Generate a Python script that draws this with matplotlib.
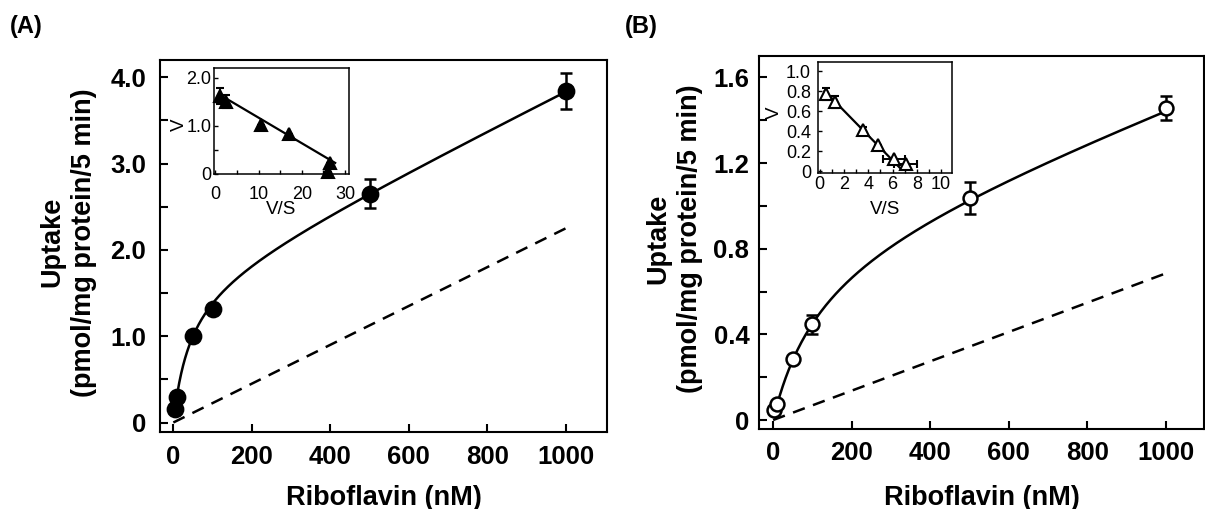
#riboflavin uptake kinetics, two panels with Eadie-Hofstee insets

import numpy as np
import matplotlib
matplotlib.use('Agg')
import matplotlib.pyplot as plt
from matplotlib.ticker import FixedLocator

plt.rcParams['font.family'] = ['Liberation Sans', 'DejaVu Sans']

# panel A data (filled circles)
conc_a = [5, 10, 50, 100, 500, 1000]
uptake_a = [0.16, 0.30, 1.00, 1.32, 2.65, 3.84]
err_a = [0, 0, 0, 0, 0.17, 0.21]
# saturable + diffusion fit for panel A
vmax_a, km_a, kd_a = 1.65, 43.0, 0.00225

# inset A (filled triangles), V vs V/S
vs_a = [1.0, 2.5, 10.5, 17.1, 26.5, 26.1]
v_a = [1.62, 1.50, 1.02, 0.83, 0.23, 0.05]
v_err_a = [0.17, 0.13, 0, 0, 0, 0]
inset_line_a = ([1.0, 27.7], [1.645, 0.23])

# panel B data (open circles)
conc_b = [2, 10, 50, 100, 500, 1000]
uptake_b = [0.047, 0.073, 0.285, 0.447, 1.036, 1.457]
err_b = [0, 0, 0, 0.045, 0.075, 0.055]
vmax_b, km_b, kd_b = 0.85, 123.0, 0.000685

# inset B (open triangles)
vs_b = [0.55, 1.3, 3.6, 4.8, 6.1, 7.1]
v_b = [0.77, 0.69, 0.41, 0.26, 0.12, 0.07]
v_err_b = [0.06, 0.06, 0.03, 0, 0, 0]
vs_err_b = [0, 0, 0.15, 0, 0.9, 0.95]
inset_line_b = ([0.41, 6.7], [0.80, 0.02])

W, H = 1205, 509
fig = plt.figure(figsize=(W / 100, H / 100), dpi=100)

def box(l, t, r, b):
    return [l / W, (H - b) / H, (r - l) / W, (b - t) / H]

def style_main(ax, pad_y):
    for s in ax.spines.values():
        s.set_linewidth(1.5)
    ax.tick_params(axis='both', which='both', direction='in', top=False, right=False,
                   length=5.5, width=1.5, labelsize=18.5)
    ax.tick_params(axis='y', which='both', pad=pad_y)
    ax.tick_params(axis='x', pad=9)
    for lab in ax.get_xticklabels() + ax.get_yticklabels():
        lab.set_fontweight('bold')

def main_panel(ax, conc, uptake, err, vmax, km, kd, filled, xlim, ylim, yticks, yticklabels, yminor, pad_y):
    xs = np.linspace(conc[0], 1000, 400)
    ax.plot(xs, vmax * xs / (km + xs) + kd * xs, color='black', lw=1.8, zorder=2)
    ax.plot([0, 1000], [0, kd * 1000], color='black', lw=1.8, dashes=(5, 3.5), zorder=2)
    ax.errorbar(conc, uptake, yerr=err, fmt='o', ms=11 if filled else 10,
                mfc='black' if filled else 'white', mec='black', mew=1.8,
                ecolor='black', elinewidth=1.8, capsize=4, capthick=1.8, zorder=3, clip_on=False)
    ax.set_xlim(*xlim)
    ax.set_ylim(*ylim)
    ax.set_xticks([0, 200, 400, 600, 800, 1000])
    ax.set_xticklabels(['0', '200', '400', '600', '800', '1000'])
    ax.set_yticks(yticks)
    ax.set_yticklabels(yticklabels)
    ax.yaxis.set_minor_locator(FixedLocator(yminor))
    style_main(ax, pad_y)
    ax.set_xlabel('Riboflavin (nM)', fontsize=19.5, fontweight='bold')
    ax.set_ylabel('Uptake\n(pmol/mg protein/5 min)', fontsize=19.5, fontweight='bold',
                  linespacing=1.3)

def inset_panel(ax, vs, v, v_err, vs_err, line, filled, xlim, ylim, xticks, xminor,
                yticks, yticklabels, yminor, pad_x, pad_y):
    ax.plot(line[0], line[1], color='black', lw=1.6, zorder=2)
    ax.errorbar(vs, v, yerr=v_err, xerr=vs_err, fmt='^', ms=9,
                mfc='black' if filled else 'white', mec='black', mew=1.5,
                ecolor='black', elinewidth=1.4, capsize=3, capthick=1.4, zorder=3, clip_on=False)
    ax.set_xlim(*xlim)
    ax.set_ylim(*ylim)
    ax.set_xticks(xticks)
    ax.set_xticklabels([str(t) for t in xticks])
    ax.xaxis.set_minor_locator(FixedLocator(xminor))
    ax.set_yticks(yticks)
    ax.set_yticklabels(yticklabels)
    ax.yaxis.set_minor_locator(FixedLocator(yminor))
    for s in ax.spines.values():
        s.set_linewidth(1.1)
    ax.tick_params(axis='both', which='both', direction='in', top=False, right=False,
                   length=3, width=1.0, labelsize=13)
    ax.tick_params(axis='x', pad=pad_x)
    ax.tick_params(axis='y', pad=pad_y)
    ax.set_xlabel('V/S', fontsize=13.5)
    ax.set_ylabel('V', fontsize=13.5)

# panel A
ax_a = fig.add_axes(box(160, 60, 607, 432))
main_panel(ax_a, conc_a, uptake_a, err_a, vmax_a, km_a, kd_a, True,
           (-34, 1105), (-0.11, 4.2), [0, 1, 2, 3, 4], ['0', '1.0', '2.0', '3.0', '4.0'],
           [0.5, 1.5, 2.5, 3.5], 10)
ax_a.yaxis.set_label_coords(-0.141, 0.51)
ax_a.xaxis.set_label_coords(0.5, -0.142)

ins_a = fig.add_axes(box(214, 68, 349, 174))
inset_panel(ins_a, vs_a, v_a, v_err_a, [0] * len(vs_a), inset_line_a, True,
            (-0.33, 30.9), (0, 2.2), [0, 10, 20, 30], [5, 15, 25],
            [0, 1, 2], ['0', '1.0', '2.0'], [0.5, 1.5], 8.5, 2)
ins_a.yaxis.set_label_coords(-0.195, 0.46)
ins_a.xaxis.set_label_coords(0.5, -0.255)

# panel B
ax_b = fig.add_axes(box(759, 56, 1204, 429))
main_panel(ax_b, conc_b, uptake_b, err_b, vmax_b, km_b, kd_b, False,
           (-36, 1097), (-0.042, 1.70), [0, 0.4, 0.8, 1.2, 1.6], ['0', '0.4', '0.8', '1.2', '1.6'],
           [0.2, 0.6, 1.0, 1.4], 7)
ax_b.yaxis.set_label_coords(-0.126, 0.51)
ax_b.xaxis.set_label_coords(0.5, -0.15)

ins_b = fig.add_axes(box(818, 62, 952, 173))
inset_panel(ins_b, vs_b, v_b, v_err_b, vs_err_b, inset_line_b, False,
            (-0.14, 10.9), (-0.02, 1.09), [0, 2, 4, 6, 8, 10], [1, 3, 5, 7, 9],
            [0, 0.2, 0.4, 0.6, 0.8, 1.0], ['0', '0.2', '0.4', '0.6', '0.8', '1.0'], [], 2.5, 5)
ins_b.yaxis.set_label_coords(-0.265, 0.54)
ins_b.xaxis.set_label_coords(0.5, -0.254)

fig.text(10 / W, 1 - 27 / H, '(A)', fontsize=17, fontweight='bold', ha='left', va='center')
fig.text(625 / W, 1 - 27 / H, '(B)', fontsize=17, fontweight='bold', ha='left', va='center')

fig.savefig('out.png', dpi=100)
